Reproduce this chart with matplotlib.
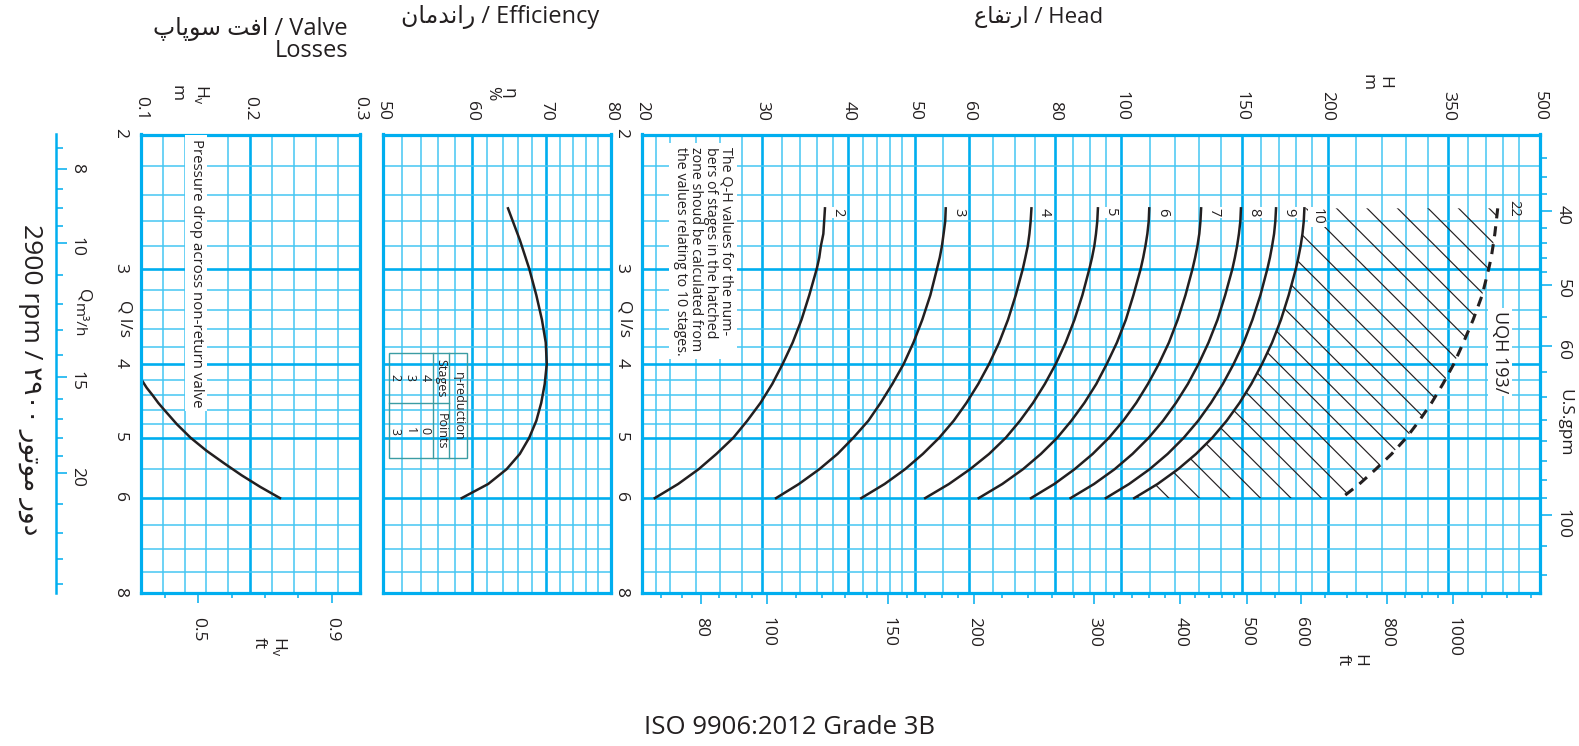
import numpy as np
import matplotlib
matplotlib.use('Agg')
import matplotlib.pyplot as plt
from matplotlib.ticker import NullFormatter
from matplotlib.collections import LineCollection
from matplotlib.patches import Polygon, Rectangle
from matplotlib.lines import Line2D

plt.rcParams['font.family'] = ['Open Sans', 'DejaVu Sans']

W, H = 1579, 746
INK = '#231f20'
BLUE = '#00aeef'
BLUE_LIGHT = '#45c6f3'
TEAL = '#3b9ca3'

########## DATA
flow = [2.5, 2.6, 2.7, 2.8, 2.9, 3.0, 3.25, 3.5, 3.75, 4.0, 4.25, 4.5, 4.75, 5.0, 5.25, 5.5, 5.75, 6.0]  # Q l/s
stages = [2, 3, 4, 5, 6, 7, 8, 9, 10]
head_2 = [37.0, 36.9, 36.8, 36.5, 36.3, 36.0, 35.1, 34.2, 33.2, 32.1, 31.0, 29.8, 28.5, 27.2, 25.7, 24.2, 22.6, 20.9]
head_3 = [55.5, 55.4, 55.1, 54.8, 54.4, 53.9, 52.7, 51.3, 49.8, 48.2, 46.4, 44.6, 42.8, 40.7, 38.6, 36.3, 33.9, 31.4]
head_4 = [74.0, 73.8, 73.5, 73.1, 72.5, 71.9, 70.2, 68.4, 66.4, 64.2, 61.9, 59.5, 57.0, 54.3, 51.4, 48.4, 45.2, 41.8]
head_5 = [92.5, 92.3, 91.9, 91.4, 90.7, 89.9, 87.8, 85.5, 83.0, 80.3, 77.4, 74.4, 71.2, 67.9, 64.2, 60.2, 56.1, 51.8]
head_6 = [109.9, 109.7, 109.2, 108.5, 107.7, 106.8, 104.2, 101.6, 98.6, 95.3, 92.0, 88.4, 84.6, 80.7, 76.4, 71.9, 67.1, 62.0]
head_7 = [130.8, 130.5, 130.0, 129.2, 128.2, 127.1, 124.1, 120.9, 117.4, 113.5, 109.4, 105.2, 100.7, 96.0, 90.9, 85.5, 79.9, 73.9]
head_8 = [149.5, 149.2, 148.5, 147.6, 146.5, 145.3, 141.8, 138.2, 134.1, 129.7, 125.1, 120.2, 115.1, 109.7, 103.9, 97.8, 91.3, 84.4]
head_9 = [168.2, 167.8, 167.1, 166.0, 164.8, 163.4, 159.6, 155.4, 150.9, 145.9, 140.7, 135.2, 129.5, 123.4, 116.9, 110.0, 102.7, 95.0]
head_10 = [185.0, 184.6, 183.8, 182.7, 181.3, 179.8, 175.5, 171.0, 166.0, 160.5, 154.8, 148.8, 142.5, 135.8, 128.6, 121.0, 113.0, 104.5]
head_22 = [354.0, 352.3, 350.6, 348.5, 346.4, 343.5, 336.0, 326.0, 315.5, 305.5, 294.5, 283.5, 272.0, 260.5, 248.0, 235.0, 222.5, 209.5]
eff_flow = [2.5, 2.75, 3.0, 3.25, 3.5, 3.75, 4.0, 4.25, 4.5, 4.75, 5.0, 5.25, 5.5, 5.75, 6.0]
efficiency = [64.7, 66.3, 67.6, 68.6, 69.4, 69.95, 70.1, 69.8, 69.3, 68.6, 67.6, 66.3, 64.5, 62.1, 58.8]
valve_flow = [4.18, 4.3, 4.4, 4.5, 4.6, 4.8, 5.0, 5.2, 5.4, 5.6, 5.8, 6.0]
valve_loss = [0.100, 0.1055, 0.111, 0.116, 0.1217, 0.133, 0.1455, 0.160, 0.176, 0.192, 0.209, 0.227]
eta_stages = [4, 3, 2]
eta_points = [0, 1, 3]

# axes ticks
q_ticks = [2, 3, 4, 5, 6, 8]
q_minor = [2.2, 2.4, 2.6, 2.8, 3.2, 3.4, 3.6, 3.8, 4.2, 4.4, 4.6, 4.8, 5.5, 6.5, 7, 7.5]
head_ticks = [20, 30, 40, 50, 60, 80, 100, 150, 200, 300, 408]
head_labels = ['20', '30', '40', '50', '60', '80', '100', '150', '200', '350', '500']
head_minor = [21, 22, 24, 26, 28, 32, 34, 36, 38, 42, 44, 46, 48, 55, 65, 70, 75, 85, 90, 95,
              110, 120, 130, 140, 160, 170, 180, 190, 220, 240, 260, 280, 320, 340, 360, 380]
ft_ticks = [80, 100, 150, 200, 300, 400, 500, 600, 800, 1000]
ft_minor = [70, 75, 85, 90, 95, 110, 120, 130, 140, 160, 170, 180, 190, 220, 240, 260, 280,
            320, 340, 360, 380, 420, 440, 460, 480, 550, 650, 700, 750, 850, 900, 950,
            1100, 1200, 1300]
eff_ticks = [50, 60, 70, 80]
eff_minor = [52, 54, 56, 58, 62, 64, 66, 68, 72, 74, 76, 78]
valve_ticks = [0.1, 0.2, 0.3]
valve_minor = [0.12, 0.14, 0.16, 0.18, 0.22, 0.24, 0.26, 0.28]
valve_ft_ticks = [0.5, 0.9]
valve_ft_minor = [0.4, 0.6, 0.7, 0.8]
gpm_ticks = [40, 50, 60, 100]
gpm_minor = [34, 36, 38, 42, 44, 46, 48, 55, 65, 70, 75, 80, 85, 90, 95, 110, 120]
m3h_ticks = [8, 10, 15, 20]
m3h_minor = [7.5, 8.5, 9, 9.5, 11, 12, 13, 14, 16, 17, 18, 19, 22, 24, 26, 28]

# persian strings, written in visual order with presentation forms
fa_head = '\uFEC9\uFE8E\uFED4\uFE97\uFEAD\uFE8D'
fa_eff = '\uFEE5\uFE8E\uFEE3\uFEAA\uFEE7\uFE8D\uFEAD'
fa_valve = '\uFB56\uFE8E\uFB58\uFEEE\uFEB3 \uFE96\uFED3\uFE8D'
fa_rpm = '\u06F2\u06F9\u06F0\u06F0 \uFEAD\uFEEE\uFE97\uFEEE\uFEE3 \uFEAD\uFEED\uFEA9'

##############################################

fig = plt.figure(figsize=(W / 100, H / 100), dpi=100)
fx = lambda x: x / W
fy = lambda y: 1 - y / H


def panel(x0, x1, y0=134.5, y1=593.3):
    return fig.add_axes([fx(x0), fy(y1), (x1 - x0) / W, (y1 - y0) / H])


def dress(ax, xmaj, xmin, xlab, ylabels=True):
    ax.set_yscale('log')
    ax.set_ylim(8, 2)
    ax.set_yticks(q_ticks, labels=[str(q) for q in q_ticks])
    ax.set_yticks(q_minor, minor=True)
    ax.yaxis.set_minor_formatter(NullFormatter())
    ax.set_xticks(xmaj, labels=xlab)
    ax.set_xticks(xmin, minor=True)
    ax.xaxis.set_minor_formatter(NullFormatter())
    ax.xaxis.tick_top()
    ax.tick_params(which='both', length=0, labelcolor=INK, labelsize=12.5)
    ax.tick_params(axis='x', labelrotation=270, pad=10)
    ax.tick_params(axis='y', labelrotation=270, pad=9, labelleft=ylabels)
    ax.grid(which='major', color=BLUE, lw=1.9)
    ax.grid(which='minor', color=BLUE_LIGHT, lw=1.1)
    ax.set_axisbelow(True)
    for s in ax.spines.values():
        s.set_color(BLUE)
        s.set_linewidth(2.3)


def sec_ticks(sec, axis, major, labels, minor, long, short):
    if axis == 'x':
        sec.set_xticks(major, labels=labels)
        sec.set_xticks(minor, minor=True)
        sec.xaxis.set_minor_formatter(NullFormatter())
    else:
        sec.set_yticks(major, labels=labels)
        sec.set_yticks(minor, minor=True)
        sec.yaxis.set_minor_formatter(NullFormatter())
    sec.tick_params(which='both', direction='out', color=BLUE, width=1.1,
                    labelcolor=INK, labelsize=12.5, labelrotation=270)
    sec.tick_params(which='major', length=long)
    sec.tick_params(which='minor', length=short)


# ---- valve losses
ax_v = panel(140.7, 360.0)
ax_v.set_xlim(0.1, 0.3)
dress(ax_v, valve_ticks, valve_minor, [str(v) for v in valve_ticks])
ax_v.plot(valve_loss, valve_flow, color=INK, lw=1.8)
sec = ax_v.secondary_xaxis('bottom', functions=(lambda m: m / 0.3048, lambda f: f * 0.3048))
sec_ticks(sec, 'x', valve_ft_ticks, [str(v) for v in valve_ft_ticks], valve_ft_minor, 7.5, 3.6)
sec.tick_params(pad=9.5)
sec.spines['bottom'].set_visible(False)

m3h = ax_v.secondary_yaxis(-0.386, functions=(lambda q: q * 3.6, lambda v: v / 3.6))
m3h.set_alignment('right')
sec_ticks(m3h, 'y', m3h_ticks, [str(v) for v in m3h_ticks], m3h_minor, 7.7, 5)
m3h.tick_params(pad=1.5)
m3h.spines['right'].set_color(BLUE)
m3h.spines['right'].set_linewidth(1.8)

# ---- efficiency
ax_e = panel(383.3, 610.7)
ax_e.set_xscale('log')
ax_e.set_xlim(50, 80)
dress(ax_e, eff_ticks, eff_minor, [str(v) for v in eff_ticks], ylabels=False)
ax_e.plot(efficiency, eff_flow, color=INK, lw=1.8)

# ---- head
ax_h = panel(641.7, 1540.0)
ax_h.set_xscale('log')
ax_h.set_xlim(20, 408)
dress(ax_h, head_ticks, head_minor, head_labels)

heads = [head_2, head_3, head_4, head_5, head_6, head_7, head_8, head_9, head_10]
for n, h in zip(stages, heads):
    ax_h.plot(h, flow, color=INK, lw=1.8)
    ax_h.annotate(str(n), xy=(h[0], flow[0]), xytext=(4, 0), textcoords='offset points',
                  rotation=270, ha='left', va='top', fontsize=10.5, color=INK,
                  bbox=dict(boxstyle='square,pad=0.1', fc='white', ec='none'))
ax_h.plot(head_22, flow, color=INK, lw=2.2, ls=(0, (3.3, 2.6)))
ax_h.annotate('22', xy=(head_22[0], flow[0]), xytext=(6, 6), textcoords='offset points',
              rotation=270, ha='left', va='top', fontsize=10.5, color=INK)

# hatched zone between the 10-stage curve and the dashed limit
zone = Polygon(np.column_stack([head_10 + head_22[::-1], flow + flow[::-1]]),
               closed=True, fc='none', ec='none', transform=ax_h.transData)
ax_h.add_patch(zone)
bw, bh = ax_h.bbox.width, ax_h.bbox.height
segs = [[((c - bh) / bw, 1), (c / bw, 0)] for c in np.arange(1079.9 - 40 * 30.5, bw + bh, 30.5)]
hatch = LineCollection(segs, colors=INK, linewidths=0.85, transform=ax_h.transAxes)
ax_h.add_collection(hatch)
hatch.set_clip_path(zone)

sec = ax_h.secondary_xaxis('bottom', functions=(lambda m: m / 0.3048, lambda f: f * 0.3048))
sec_ticks(sec, 'x', ft_ticks, [str(v) for v in ft_ticks], ft_minor, 7.7, 3.6)
sec.tick_params(pad=9.5)
sec.spines['bottom'].set_visible(False)

gpm = ax_h.secondary_yaxis('right', functions=(lambda q: q / 0.06309, lambda g: g * 0.06309))
sec_ticks(gpm, 'y', gpm_ticks, [str(v) for v in gpm_ticks], gpm_minor, 8.6, 5)
gpm.tick_params(pad=2)
gpm.spines['right'].set_visible(False)

# ---- texts
rot = dict(rotation=270, color=INK)
fig.text(fx(703), fy(147), 'The Q-H values for the num-\nbers of stages in the hatched\n'
         'zone shoud be calculated from\nthe values relating to 10 stages.',
         ha='center', va='top', ma='left', fontsize=10.3, linespacing=1.03,
         bbox=dict(boxstyle='square,pad=0.25', fc='white', ec='none'), **rot)
fig.text(fx(196), fy(139), 'Pressure drop across non-return valve', ha='center', va='top',
         fontsize=10.8, bbox=dict(boxstyle='square,pad=0.25', fc='white', ec='none'), **rot)
fig.text(fx(1500), fy(352), 'UQH 193/', ha='center', va='center', fontsize=13,
         bbox=dict(boxstyle='square,pad=0.15', fc='white', ec='none'), **rot)
fig.text(fx(1556), fy(423), 'U.S.gpm', ha='left', va='center', fontsize=12.5, **rot)
fig.text(fx(625), fy(318), 'Q l/s', ha='center', va='center', fontsize=12.5, **rot)
fig.text(fx(124), fy(318), 'Q l/s', ha='center', va='center', fontsize=12.5, **rot)
fig.text(fx(83), fy(296), 'Q', ha='center', va='center', fontsize=12.5, **rot)
fig.text(fx(78), fy(320), 'm\u00b3/h', ha='center', va='center', fontsize=11, **rot)
fig.text(fx(1376), fy(82), 'H\nm', ha='center', va='center', fontsize=12.5, linespacing=1.05, **rot)
fig.text(fx(1351), fy(660), 'H\nft', ha='center', va='center', fontsize=12.5, linespacing=1.05, **rot)
fig.text(fx(500), fy(93), '\u03b7\n%', ha='center', va='center', fontsize=12.5, linespacing=1.05, **rot)
fig.text(fx(202), fy(95), r'H$_\mathregular{v}$', ha='center', va='center', fontsize=12.5, **rot)
fig.text(fx(177), fy(93), 'm', ha='center', va='center', fontsize=12.5, **rot)
fig.text(fx(280), fy(647), r'H$_\mathregular{v}$', ha='center', va='center', fontsize=12.5, **rot)
fig.text(fx(259), fy(643), 'ft', ha='center', va='center', fontsize=12.5, **rot)
fig.text(fx(30), fy(380), '2900 rpm / ' + fa_rpm, ha='center', va='center', fontsize=19, **rot)

fig.text(fx(1103), fy(17), fa_head + ' / Head', ha='right', va='center', fontsize=16, color=INK)
fig.text(fx(599), fy(17), fa_eff + ' / Efficiency', ha='right', va='center', fontsize=17, color=INK)
fig.text(fx(348), fy(40), fa_valve + ' / Valve\nLosses', ha='right', va='center', ma='right',
         fontsize=17, linespacing=0.9, color=INK)
fig.text(fx(790), fy(727), 'ISO 9906:2012 Grade 3B', ha='center', va='center', fontsize=18.5, color=INK)

# eta-reduction table
tline = dict(color=TEAL, lw=1.0)
fig.add_artist(Rectangle((fx(389.3), fy(458.3)), (466.7 - 389.3) / W, (458.3 - 353.3) / H,
                         fill=False, ec=TEAL, lw=1.0, transform=fig.transFigure))
fig.add_artist(Line2D([fx(449.3)] * 2, [fy(353.3), fy(458.3)], **tline))
fig.add_artist(Line2D([fx(432.7)] * 2, [fy(353.3), fy(458.3)], **tline))
fig.add_artist(Line2D([fx(389.3), fx(449.3)], [fy(402.7)] * 2, **tline))
fig.text(fx(458), fy(406), '\u03b7-reduction', ha='center', va='center', fontsize=9, **rot)
fig.text(fx(441), fy(378), 'Stages', ha='center', va='center', fontsize=9, **rot)
fig.text(fx(441), fy(431), 'Points', ha='center', va='center', fontsize=9, **rot)
for i, (s, p) in enumerate(zip(eta_stages, eta_points)):
    fig.text(fx(425 - 15 * i), fy(378), str(s), ha='center', va='center', fontsize=9, **rot)
    fig.text(fx(425 - 15 * i), fy(431), str(p), ha='center', va='center', fontsize=9, **rot)

fig.savefig('out.png', dpi=100)
